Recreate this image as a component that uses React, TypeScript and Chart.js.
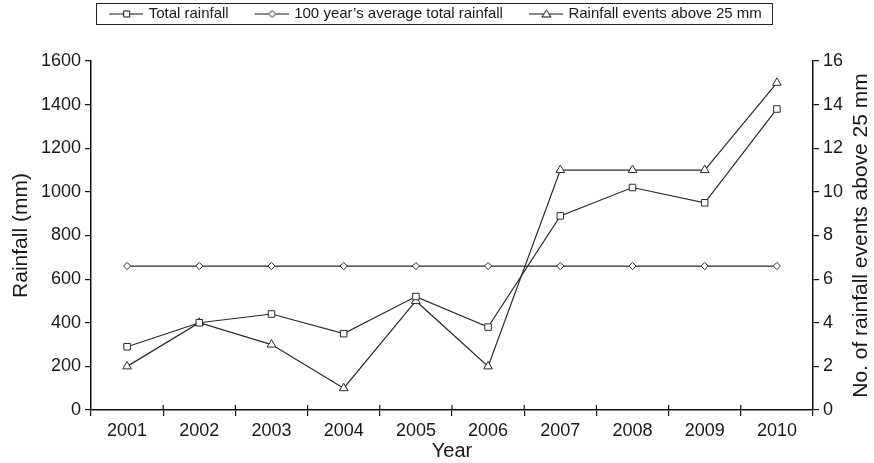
import React, { useEffect, useRef } from "react";
import { Chart, registerables } from "chart.js";

Chart.register(...registerables);

const years = ["2001", "2002", "2003", "2004", "2005", "2006", "2007", "2008", "2009", "2010"];
const totalRainfall = [290, 400, 440, 350, 520, 380, 890, 1020, 950, 1380];
const avgRainfall = [660, 660, 660, 660, 660, 660, 660, 660, 660, 660];
const eventsAbove25 = [2, 4, 3, 1, 5, 2, 11, 11, 11, 15];
const seriesNames = ["Total rainfall", "100 year\u2019s average total rainfall", "Rainfall events above 25 mm"];
const leftTicks = [0, 200, 400, 600, 800, 1000, 1200, 1400, 1600];
const rightTicks = [0, 2, 4, 6, 8, 10, 12, 14, 16];

const FONT = "'Liberation Sans', Arial, Helvetica, sans-serif";
const INK = "#1a1a1a";
const LINE = "#2a2a2a";

const LEGEND_FONT = 15;
const LEGEND_PAD = 6;
const BOX_W = 52;
const SYM_W = 34;

function makeSymbol(kind: string): HTMLCanvasElement {
  const c = document.createElement("canvas");
  const w = BOX_W + 4;
  const h = 12;
  c.width = w;
  c.height = h;
  const ctx = c.getContext("2d")!;
  const x0 = w - SYM_W;
  const cy = 6.5;
  ctx.strokeStyle = "#111";
  ctx.lineWidth = 1;
  ctx.beginPath();
  ctx.moveTo(x0, cy);
  ctx.lineTo(w, cy);
  ctx.stroke();
  const cx = Math.round(x0 + SYM_W / 2) + 0.5;
  ctx.fillStyle = "#fff";
  ctx.beginPath();
  if (kind === "rect") {
    ctx.rect(cx - 3, cy - 3, 6, 6);
  } else if (kind === "diamond") {
    ctx.moveTo(cx, cy - 3.5);
    ctx.lineTo(cx + 3.5, cy);
    ctx.lineTo(cx, cy + 3.5);
    ctx.lineTo(cx - 3.5, cy);
    ctx.closePath();
  } else {
    ctx.moveTo(cx, cy - 4);
    ctx.lineTo(cx + 4.5, cy + 3);
    ctx.lineTo(cx - 4.5, cy + 3);
    ctx.closePath();
  }
  ctx.fill();
  ctx.stroke();
  return c;
}

const legendFramePlugin = {
  id: "legendFrame",
  afterDraw(chart: any) {
    const legend = chart.legend;
    if (!legend || !legend.legendHitBoxes || !legend.legendHitBoxes.length) return;
    const boxes = legend.legendHitBoxes;
    const first = boxes[0];
    const last = boxes[boxes.length - 1];
    const left = first.left + BOX_W + 2 - SYM_W - 13;
    const right = last.left + last.width + 10;
    const cy = first.top + first.height / 2;
    const ctx = chart.ctx;
    ctx.save();
    ctx.strokeStyle = "#222";
    ctx.lineWidth = 1;
    ctx.strokeRect(Math.round(left) + 0.5, Math.round(cy - 11) + 0.5, Math.round(right - left), 21);
    ctx.restore();
  },
};

const axisDecorPlugin = {
  id: "axisDecor",
  afterDraw(chart: any) {
    const ctx = chart.ctx;
    const x = chart.scales.x;
    const area = chart.chartArea;
    ctx.save();
    ctx.strokeStyle = "#111";
    ctx.lineWidth = 1.2;
    ctx.beginPath();
    for (let i = 0; i < years.length - 1; i++) {
      const px = (x.getPixelForValue(i) + x.getPixelForValue(i + 1)) / 2;
      ctx.moveTo(px, area.bottom - 5);
      ctx.lineTo(px, area.bottom);
    }
    ctx.stroke();
    ctx.translate(861, (area.top + area.bottom) / 2);
    ctx.rotate(-Math.PI / 2);
    ctx.font = `21px ${FONT}`;
    ctx.fillStyle = INK;
    ctx.textAlign = "center";
    ctx.textBaseline = "middle";
    ctx.fillText("No. of rainfall events above 25 mm", 0, 0);
    ctx.restore();
  },
};

export default function App() {
  const ref = useRef<HTMLCanvasElement | null>(null);

  useEffect(() => {
    if (!ref.current) return;
    const symbols = [makeSymbol("rect"), makeSymbol("diamond"), makeSymbol("triangle")];
    const common = {
      borderColor: LINE,
      borderWidth: 1.2,
      pointBackgroundColor: "#fff",
      pointBorderColor: LINE,
      pointBorderWidth: 1,
      tension: 0,
      fill: false,
    };
    const tickFont = { family: FONT, size: 18 };
    const chart = new Chart(ref.current, {
      type: "line",
      data: {
        labels: years,
        datasets: [
          { ...common, label: seriesNames[0], data: totalRainfall, yAxisID: "y", pointStyle: "rect", pointRadius: 4.6 },
          { ...common, label: seriesNames[1], data: avgRainfall, yAxisID: "y", pointStyle: "rectRot", pointRadius: 3.6 },
          { ...common, label: seriesNames[2], data: eventsAbove25, yAxisID: "y1", pointStyle: "triangle", pointRadius: 5 },
        ],
      },
      options: {
        animation: false,
        responsive: true,
        maintainAspectRatio: false,
        layout: { padding: { top: 0, left: 0, bottom: 0, right: 23 } },
        plugins: {
          tooltip: { enabled: false },
          legend: {
            position: "top",
            labels: {
              usePointStyle: true,
              pointStyleWidth: BOX_W,
              padding: LEGEND_PAD,
              color: INK,
              font: { family: FONT, size: LEGEND_FONT },
              generateLabels: (ch: any) =>
                ch.data.datasets.map((ds: any, i: number) => ({
                  text: ds.label,
                  pointStyle: symbols[i],
                  fillStyle: "#fff",
                  strokeStyle: LINE,
                  lineWidth: 0,
                  hidden: false,
                  datasetIndex: i,
                  fontColor: INK,
                })),
            },
          },
        },
        scales: {
          x: {
            type: "category",
            offset: true,
            grid: { display: true, offset: true, drawOnChartArea: false, drawTicks: true, tickLength: 6, color: "#111", lineWidth: 1.2 },
            border: { display: true, color: "#111", width: 1.5 },
            ticks: { color: INK, font: tickFont, padding: 4, maxRotation: 0, autoSkip: false },
            title: { display: true, text: "Year", color: INK, font: { family: FONT, size: 20 }, padding: { top: 0, bottom: 0 } },
            afterFit: (s: any) => {
              s.height = 53;
            },
          },
          gap: {
            type: "category",
            position: "top",
            display: true,
            grid: { display: false, drawTicks: false },
            border: { display: false },
            ticks: { display: false },
            afterFit: (s: any) => {
              s.height = 30;
            },
          },
          y: {
            position: "left",
            min: 0,
            max: 1600,
            afterBuildTicks: (s: any) => {
              s.ticks = leftTicks.map((v) => ({ value: v }));
            },
            grid: { display: true, drawOnChartArea: false, drawTicks: true, tickLength: 6, color: "#111", lineWidth: 1.2 },
            border: { display: true, color: "#111", width: 1.5 },
            ticks: { color: INK, font: tickFont, padding: 4, callback: (v: any) => String(v) },
            title: { display: true, text: "Rainfall (mm)", color: INK, font: { family: FONT, size: 21 }, padding: { top: 9, bottom: 0 } },
            afterFit: (s: any) => {
              s.width = 91;
            },
          },
          y1: {
            position: "right",
            min: 0,
            max: 16,
            afterBuildTicks: (s: any) => {
              s.ticks = rightTicks.map((v) => ({ value: v }));
            },
            grid: { display: true, drawOnChartArea: false, drawTicks: true, tickLength: 6, color: "#111", lineWidth: 1.2 },
            border: { display: true, color: "#111", width: 1.5 },
            ticks: { color: INK, font: tickFont, padding: 4, callback: (v: any) => String(v) },
            title: { display: false },
            afterFit: (s: any) => {
              s.width = 38;
            },
          },
        },
      } as any,
      plugins: [legendFramePlugin, axisDecorPlugin],
    });
    return () => chart.destroy();
  }, []);

  return (
    <div style={{ position: "absolute", left: 0, top: 0, width: 874, height: 463, background: "#fff" }}>
      <canvas ref={ref} />
    </div>
  );
}
